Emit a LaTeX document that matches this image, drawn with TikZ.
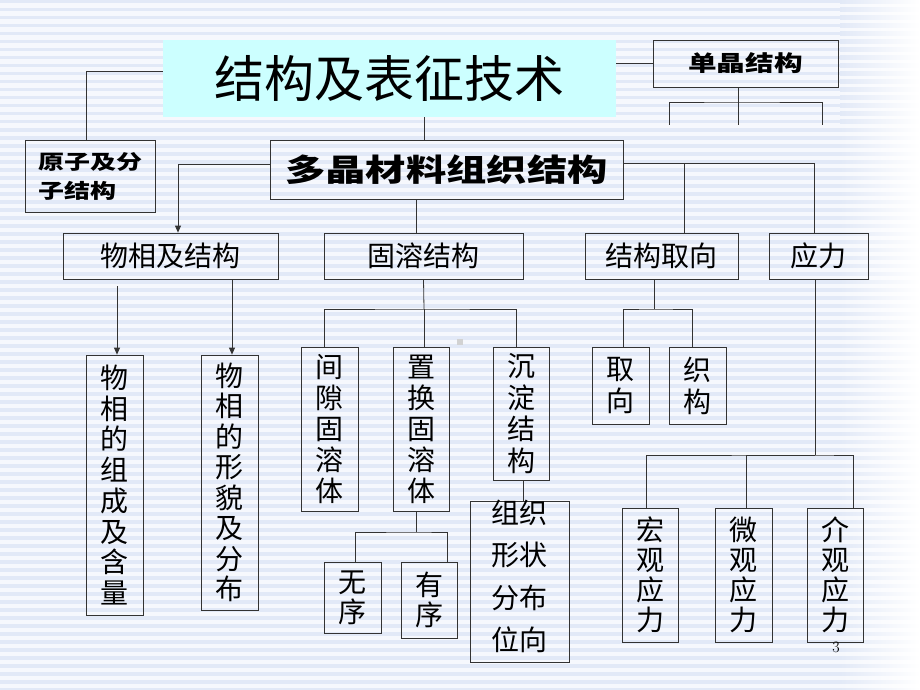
\documentclass[tikz,border=0pt]{standalone}
\usepackage{fontspec}
\usetikzlibrary{arrows.meta}
\newfontfamily\cjk{Noto Sans CJK SC}
\newfontfamily\cjkw[FakeStretch=1.3]{Noto Sans CJK SC}
\definecolor{bgbase}{HTML}{F6F8FD}
\definecolor{stripe}{HTML}{E2E9F7}
\definecolor{titlecyan}{HTML}{CCFFFF}
\definecolor{edge}{HTML}{333333}
\tikzset{
  box/.style={draw=edge, line width=0.8pt, inner sep=0pt, align=center},
  hbox/.style={box, font=\fontsize{28}{30}\selectfont\cjk},
  vbox/.style={box, font=\fontsize{28}{31}\selectfont\cjk},
  conn/.style={draw=edge, line width=0.8pt},
  arr/.style={conn, -{Triangle[length=7pt,width=6pt]}},
}
\begin{document}
\begin{tikzpicture}[x=1pt,y=-1pt]
\useasboundingbox (0,0) rectangle (920,690);
% background
\fill[bgbase] (0,0) rectangle (840,690);
\shade[left color=bgbase,right color=white] (840,0) rectangle (920,690);
\foreach \i in {0,...,86}{
  \fill[stripe] (0,\i*8) rectangle (840,\i*8+3.5);
  \shade[left color=stripe,right color=white] (840,\i*8) rectangle (920,\i*8+3.5);
}
\fill[gray!35] (457,339) rectangle (463,345);

% top level
\node[fill=titlecyan, inner sep=0pt, minimum width=453pt, minimum height=77pt,
      font=\fontsize{50}{52}\selectfont\cjk] (title) at (389.5,78.5) {结构及表征技术};
\node[box, minimum width=130pt, minimum height=72pt, align=left,
      font=\fontsize{20}{29}\selectfont\cjkw\bfseries] (yuanzi) at (90,176) {原子及分\\子结构};
\node[box, minimum width=185pt, minimum height=47pt,
      font=\fontsize{22}{24}\selectfont\cjkw\bfseries] (danjing) at (745.5,63.5) {单晶结构};
\node[box, minimum width=353pt, minimum height=59pt,
      font=\fontsize{31}{33}\selectfont\cjkw\bfseries] (duojing) at (446.5,169.5) {多晶材料组织结构};

% second row
\node[hbox, minimum width=215pt, minimum height=46pt] (wuxiang) at (170.5,256) {物相及结构};
\node[hbox, minimum width=199pt, minimum height=46pt] (gurong) at (423.5,256) {固溶结构};
\node[hbox, minimum width=153pt, minimum height=46pt] (quxiang) at (661.5,256) {结构取向};
\node[hbox, minimum width=99pt, minimum height=46pt] (yingli) at (818.5,256) {应力};

% third row
\node[vbox, minimum width=57pt, minimum height=260pt, font=\fontsize{28}{30.7}\selectfont\cjk] (zucheng) at (114.5,485) {物\\相\\的\\组\\成\\及\\含\\量};
\node[vbox, minimum width=57pt, minimum height=255pt, font=\fontsize{28}{30.5}\selectfont\cjk] (xingmao) at (229.5,482.5) {物\\相\\的\\形\\貌\\及\\分\\布};
\node[vbox, minimum width=57pt, minimum height=164pt] (jianxi) at (329.5,429) {间\\隙\\固\\溶\\体};
\node[vbox, minimum width=56pt, minimum height=164pt] (zhihuan) at (421,429) {置\\换\\固\\溶\\体};
\node[vbox, minimum width=56pt, minimum height=133pt, font=\fontsize{28}{31.7}\selectfont\cjk] (chendian) at (521,413.5) {沉\\淀\\结\\构};
\node[box, minimum width=99pt, minimum height=161pt] (zuzhi) at (519.5,581.5) {};
\node[font=\fontsize{28}{42.3}\selectfont\cjk, align=center, inner sep=0pt] (zuzhitxt) at (519.5,576.5) {组织\\形状\\分布\\位向};
\node[vbox, minimum width=57pt, minimum height=71pt, font=\fontsize{28}{30}\selectfont\cjk] (wuxu) at (352.5,597.5) {无\\序};
\node[vbox, minimum width=56pt, minimum height=76pt, font=\fontsize{28}{30}\selectfont\cjk] (youxu) at (429,600) {有\\序};
\node[vbox, minimum width=57pt, minimum height=77pt, font=\fontsize{28}{32}\selectfont\cjk] (qx) at (620.5,385.5) {取\\向};
\node[vbox, minimum width=57pt, minimum height=77pt, font=\fontsize{28}{32}\selectfont\cjk] (zhigou) at (697.5,385.5) {织\\构};
\node[vbox, minimum width=56pt, minimum height=134pt, font=\fontsize{28}{30}\selectfont\cjk] (hongguan) at (650,575) {宏\\观\\应\\力};
\node[vbox, minimum width=57pt, minimum height=134pt, font=\fontsize{28}{30}\selectfont\cjk] (weiguan) at (743.5,575) {微\\观\\应\\力};
\node[vbox, minimum width=56pt, minimum height=134pt, font=\fontsize{28}{30}\selectfont\cjk] (jieguan) at (835,575) {介\\观\\应\\力};
\node[font=\fontsize{16}{18}\selectfont, inner sep=0pt] (pagenum) at (836,647) {3};

% connectors: top
\draw[conn] ([yshift=7.5pt]title.west) -| ([xshift=-4pt]yuanzi.north);
\draw[conn] (danjing.west) -- (danjing.west -| title.east);
\coordinate (dj1) at (669,125);
\coordinate (dj2) at (738,125);
\coordinate (dj3) at (822,125);
\coordinate (djh) at (738,102);
\draw[conn] ([xshift=-7.5pt]danjing.south) -- (dj2);
\draw[conn] (dj1) |- (djh) -| (dj3);
\draw[conn] ([xshift=34.5pt]title.south) -- ([xshift=-22.5pt]duojing.north);

% duojing to second row
\draw[arr] ([yshift=5.5pt]duojing.west) -| ([xshift=7.5pt]wuxiang.north);
\draw[conn] ([xshift=-30.5pt]duojing.south) -- ([xshift=-7.5pt]gurong.north);
\draw[conn] ([yshift=6.5pt]duojing.east) -| ([xshift=-4.5pt]yingli.north);
\draw[conn] ([xshift=22.5pt]quxiang.north) |- ([yshift=6.5pt]duojing.east);

% wuxiang
\draw[arr] ([xshift=-53.5pt,yshift=-7pt]wuxiang.south) -- ([xshift=2.5pt]zucheng.north);
\draw[arr] ([xshift=61.5pt]wuxiang.south) -- ([xshift=2.5pt]xingmao.north);

% gurong
\coordinate (gh) at (424,309);
\draw[conn] (gurong.south) -- (gh);
\draw[conn] ([xshift=-5.5pt]jianxi.north) |- (gh) -| ([xshift=-5pt]chendian.north);
\draw[conn] (gh) -- ([xshift=3pt]zhihuan.north);
\coordinate (zh) at (416,532);
\draw[conn] ([xshift=-5pt]zhihuan.south) -- (zh);
\draw[conn] ([xshift=2.5pt]wuxu.north) |- (zh) -| ([xshift=18pt]youxu.north);
\draw[conn] ([xshift=2pt]chendian.south) -- ([xshift=3.5pt]zuzhi.north);

% quxiang
\coordinate (qh) at (654,309);
\draw[conn] ([xshift=-7.5pt]quxiang.south) -- (qh);
\draw[conn] ([xshift=2.5pt]qx.north) |- (qh) -| ([xshift=-5.5pt]zhigou.north);

% yingli
\coordinate (yh) at (815,455);
\draw[conn] ([xshift=-3.5pt]yingli.south) -- (yh);
\draw[conn] ([xshift=-4pt]hongguan.north) |- (yh) -| ([xshift=18pt]jieguan.north);
\draw[conn] ([xshift=2.5pt]weiguan.north) |- (yh);
\end{tikzpicture}
\end{document}
